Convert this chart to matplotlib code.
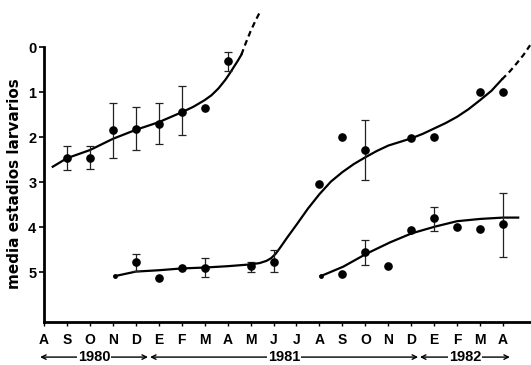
import numpy as np
import matplotlib
matplotlib.use("Agg")
import matplotlib.pyplot as plt
from matplotlib.transforms import blended_transform_factory

# eje x: meses desde agosto 1980 (0) hasta abril 1982 (20)
month_labels = ["A", "S", "O", "N", "D",
                "E", "F", "M", "A", "M", "J", "J", "A", "S", "O", "N", "D",
                "E", "F", "M", "A"]
y_ticks = [0, 1, 2, 3, 4, 5]

# puntos 1980-81 (serie superior)
g1_x = [1, 2, 3, 4, 5, 6, 7, 8]
g1_y = [2.47, 2.46, 1.84, 1.82, 1.70, 1.45, 1.35, 0.31]
g1_lo = [2.19, 2.21, 1.25, 1.34, 1.24, 0.87, np.nan, 0.10]
g1_hi = [2.73, 2.70, 2.46, 2.29, 2.16, 1.96, np.nan, 0.53]

# puntos 1981 (serie inferior)
g2_x = [4, 5, 6, 7, 9, 10]
g2_y = [4.78, 5.13, 4.91, 4.90, 4.87, 4.77]
g2_lo = [4.59, np.nan, np.nan, 4.68, 4.77, 4.50]
g2_hi = [4.98, np.nan, np.nan, 5.10, 4.99, 5.01]

# puntos 1981-82 (serie superior)
g3_x = [12, 13, 14, 16, 17, 19, 20]
g3_y = [3.05, 2.01, 2.29, 2.03, 2.01, 0.99, 1.00]
g3_lo = [np.nan, np.nan, 1.62, np.nan, np.nan, np.nan, np.nan]
g3_hi = [np.nan, np.nan, 2.96, np.nan, np.nan, np.nan, np.nan]

# puntos 1981-82 (serie inferior)
g4_x = [13, 14, 15, 16, 17, 18, 19, 20]
g4_y = [5.04, 4.55, 4.87, 4.07, 3.81, 4.01, 4.04, 3.94]
g4_lo = [np.nan, 4.29, np.nan, np.nan, 3.56, np.nan, np.nan, 3.25]
g4_hi = [np.nan, 4.84, np.nan, np.nan, 4.08, np.nan, np.nan, 4.66]

# curvas ajustadas
c1_x = [0.38, 1, 2, 3, 4, 5, 6, 6.5, 7, 7.3, 7.6, 7.9, 8.1, 8.3, 8.45, 8.6]
c1_y = [2.66, 2.47, 2.29, 2.04, 1.84, 1.67, 1.45, 1.33, 1.18, 1.07, 0.92,
        0.73, 0.58, 0.42, 0.30, 0.17]
c1d_x = [8.6, 8.8, 9.0, 9.2, 9.41]
c1d_y = [0.17, -0.1, -0.35, -0.57, -0.78]

c2_x = [3.09, 4, 5, 6, 7, 8, 9, 9.4, 9.7, 9.9, 10.1, 10.3, 10.6, 11.0, 11.5,
        12.0, 12.5, 13.0, 13.5, 14.0, 14.5, 15.0, 15.5, 16.0, 16.5, 17.0,
        17.5, 18.0, 18.5, 19.0, 19.5, 19.95]
c2_y = [5.09, 4.99, 4.96, 4.92, 4.90, 4.87, 4.83, 4.80, 4.75, 4.69, 4.59,
        4.45, 4.23, 3.95, 3.59, 3.27, 2.99, 2.78, 2.60, 2.45, 2.31, 2.19,
        2.11, 2.03, 1.93, 1.81, 1.69, 1.55, 1.38, 1.18, 0.97, 0.72]
c2d_x = [19.95, 20.3, 20.6, 20.9, 21.18]
c2d_y = [0.72, 0.54, 0.36, 0.17, -0.04]

c3_x = [12.06, 13.04, 14.06, 15.08, 16.02, 17.04, 18.0, 19.0, 20.0, 20.66]
c3_y = [5.09, 4.88, 4.59, 4.34, 4.14, 3.99, 3.87, 3.82, 3.79, 3.79]

# anos con flechas: (texto, inicio, fin)
years = [("1980", -0.17, 4.53), ("1981", 4.62, 16.3), ("1982", 16.38, 20.3)]

fig = plt.figure(figsize=(5.31, 3.65), dpi=100)
ax = fig.add_axes([0.0829, 0.1178, 0.9163, 0.8582])

ax.plot(c1_x, c1_y, color="black", lw=1.6, clip_on=False)
ax.plot(c1d_x, c1d_y, color="black", lw=1.6, ls=(0, (2.6, 1.8)), clip_on=False)
ax.plot(c2_x, c2_y, color="black", lw=1.6, clip_on=False)
ax.plot(c2d_x, c2d_y, color="black", lw=1.6, ls=(0, (2.6, 1.8)), clip_on=False)
ax.plot(c3_x, c3_y, color="black", lw=1.6, clip_on=False)
ax.plot(c3_x[:1], c3_y[:1], "o", color="black", ms=2.5)
ax.plot(c2_x[:1], c2_y[:1], "o", color="black", ms=2.5)

for gx, gy, lo, hi in [(g1_x, g1_y, g1_lo, g1_hi), (g2_x, g2_y, g2_lo, g2_hi),
                       (g3_x, g3_y, g3_lo, g3_hi), (g4_x, g4_y, g4_lo, g4_hi)]:
    gx, gy, lo, hi = map(np.array, (gx, gy, lo, hi))
    m = ~np.isnan(lo)
    ax.errorbar(gx[m], gy[m], yerr=[gy[m] - lo[m], hi[m] - gy[m]], fmt="none",
                ecolor="#222222", elinewidth=0.9, capsize=3, capthick=0.9)
    ax.plot(gx, gy, "o", color="black", ms=5.2)

ax.set_xlim(0, 21.2)
ax.set_ylim(6.11, -0.85)

for s in ["top", "right"]:
    ax.spines[s].set_visible(False)
ax.spines["left"].set_bounds(6.11, 0)
ax.spines["left"].set_linewidth(2.0)
ax.spines["bottom"].set_linewidth(2.0)

ax.set_yticks(y_ticks)
ax.set_yticklabels([str(t) for t in y_ticks], fontsize=10.5, fontweight="bold",
                   family="Liberation Sans")
ax.set_xticks(range(len(month_labels)))
ax.set_xticklabels(month_labels, fontsize=10, fontweight="bold",
                   family="Liberation Sans")
ax.tick_params(axis="y", length=3.5, width=1.2, pad=2)
ax.tick_params(axis="x", length=3, width=1.0, pad=5)

fig.text(0.028, 0.497, "media estadios larvarios", rotation=90, ha="center",
         va="center", fontsize=11, fontweight="bold", family="DejaVu Sans")

# fila de anos bajo los meses
tr = blended_transform_factory(ax.transData, ax.transAxes)
for label, x0, x1 in years:
    ax.annotate("", xy=(x0, -0.112), xytext=(x1, -0.112), xycoords=tr,
                textcoords=tr, annotation_clip=False,
                arrowprops=dict(arrowstyle="<->", lw=1.0, color="black",
                                shrinkA=0, shrinkB=0, mutation_scale=8))
    ax.text((x0 + x1) / 2, -0.112, label, transform=tr, ha="center",
            va="center", fontsize=10.5, fontweight="bold",
            family="Liberation Sans",
            bbox=dict(facecolor="white", edgecolor="none", pad=0.8))

fig.savefig("out.png", dpi=100)
